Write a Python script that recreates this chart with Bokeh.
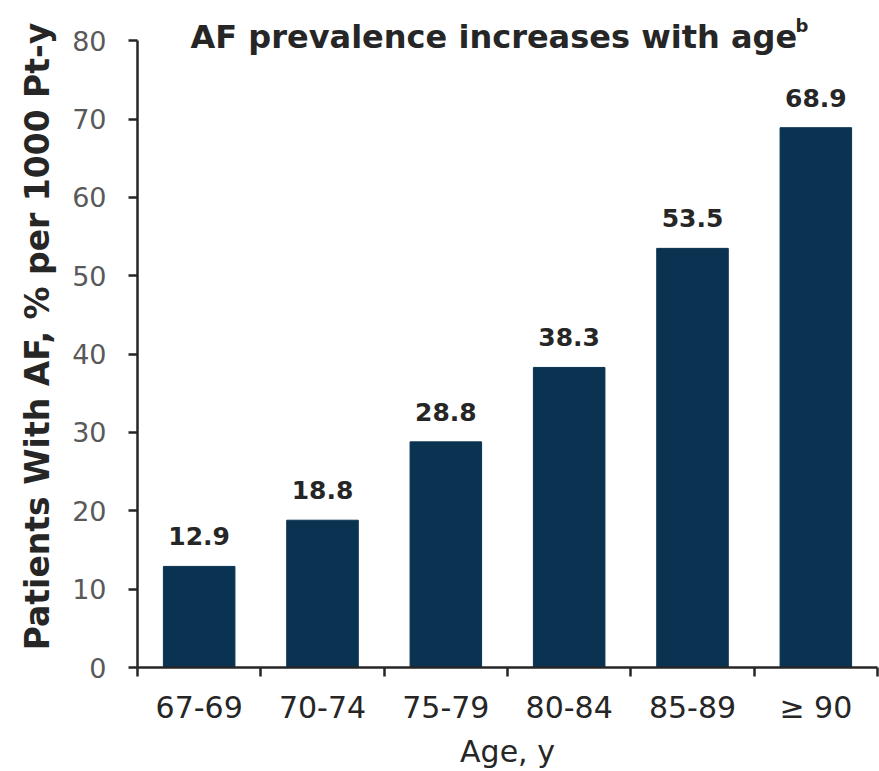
from bokeh.plotting import figure
from bokeh.models import (ColumnDataSource, Range1d, FixedTicker, Label, LabelSet,
                          CustomJSTickFormatter)
from bokeh.core.properties import value
from bokeh.embed import file_html
from bokeh.resources import INLINE

# AF prevalence per age group
age_groups = ["67-69", "70-74", "75-79", "80-84", "85-89", "≥ 90"]
af_rate = [12.9, 18.8, 28.8, 38.3, 53.5, 68.9]
y_ticks = [0, 10, 20, 30, 40, 50, 60, 70, 80]

FONT = "DejaVu Sans"
BAR = "#0a3352"
INK = "#262626"

# each age group occupies one unit slot on the x axis
positions = [i + 0.5 for i in range(len(age_groups))]
bounds = list(range(len(age_groups) + 1))

src = ColumnDataSource(dict(
    x=positions,
    top=af_rate,
    label=[f"{v:.1f}" for v in af_rate],
))

# headroom above 80 leaves space for the heading inside the frame
p = figure(width=879, height=771,
           x_range=Range1d(0, len(age_groups)), y_range=Range1d(0, 84.5),
           output_backend="svg", toolbar_location=None,
           min_border_left=137, min_border_right=2,
           min_border_top=5, min_border_bottom=104)

p.vbar(x="x", top="top", width=0.58, source=src,
       fill_color=BAR, line_color=BAR)

p.add_layout(LabelSet(x="x", y="top", text="label", source=src,
                      text_align="center", text_baseline="alphabetic",
                      y_offset=21, text_font=value(FONT), text_font_style="bold",
                      text_font_size="25px", text_color=INK))

p.grid.visible = False
p.outline_line_color = None
p.background_fill_color = "white"
p.border_fill_color = "white"

# x axis: labels at slot centres, tick marks at slot boundaries
xa = p.xaxis[0]
xa.ticker = FixedTicker(ticks=positions, minor_ticks=bounds)
xa.formatter = CustomJSTickFormatter(args=dict(labels=age_groups),
                                     code="return labels[Math.floor(tick)];")
xa.major_tick_out = 0
xa.major_tick_in = 0
xa.minor_tick_out = 9
xa.minor_tick_in = 0
xa.minor_tick_line_width = 2.5
xa.minor_tick_line_color = INK
xa.axis_line_width = 2.5
xa.axis_line_color = INK
xa.major_label_text_font = FONT
xa.major_label_text_font_size = "30px"
xa.major_label_text_color = INK
xa.major_label_standoff = 13
xa.axis_label = "Age, y"
xa.axis_label_text_font = FONT
xa.axis_label_text_font_style = "normal"
xa.axis_label_text_font_size = "30px"
xa.axis_label_text_color = INK
xa.axis_label_standoff = 6

ya = p.yaxis[0]
ya.bounds = (0, 80)
ya.ticker = FixedTicker(ticks=y_ticks)
ya.major_tick_out = 9
ya.major_tick_in = 0
ya.minor_tick_out = 0
ya.minor_tick_in = 0
ya.major_tick_line_width = 2.5
ya.major_tick_line_color = INK
ya.axis_line_width = 2.5
ya.axis_line_color = INK
ya.major_label_text_font = FONT
ya.major_label_text_font_size = "27px"
ya.major_label_text_color = "#595959"
ya.major_label_standoff = 22
ya.axis_label = "Patients With AF, % per 1000 Pt-y"
ya.axis_label_text_font = FONT
ya.axis_label_text_font_style = "bold"
ya.axis_label_text_font_size = "33px"
ya.axis_label_text_color = INK
ya.axis_label_standoff = 12

# chart heading with superscript note marker
p.add_layout(Label(x=0.43, y=80, text="AF prevalence increases with age",
                   text_align="left", text_baseline="alphabetic", y_offset=4,
                   text_font=FONT, text_font_style="bold",
                   text_font_size="32px", text_color=INK))
p.add_layout(Label(x=5.335, y=80, text="b",
                   text_align="left", text_baseline="alphabetic", y_offset=15,
                   text_font=FONT, text_font_style="bold",
                   text_font_size="18px", text_color=INK))

open("out.html", "w").write(file_html(p, INLINE))
